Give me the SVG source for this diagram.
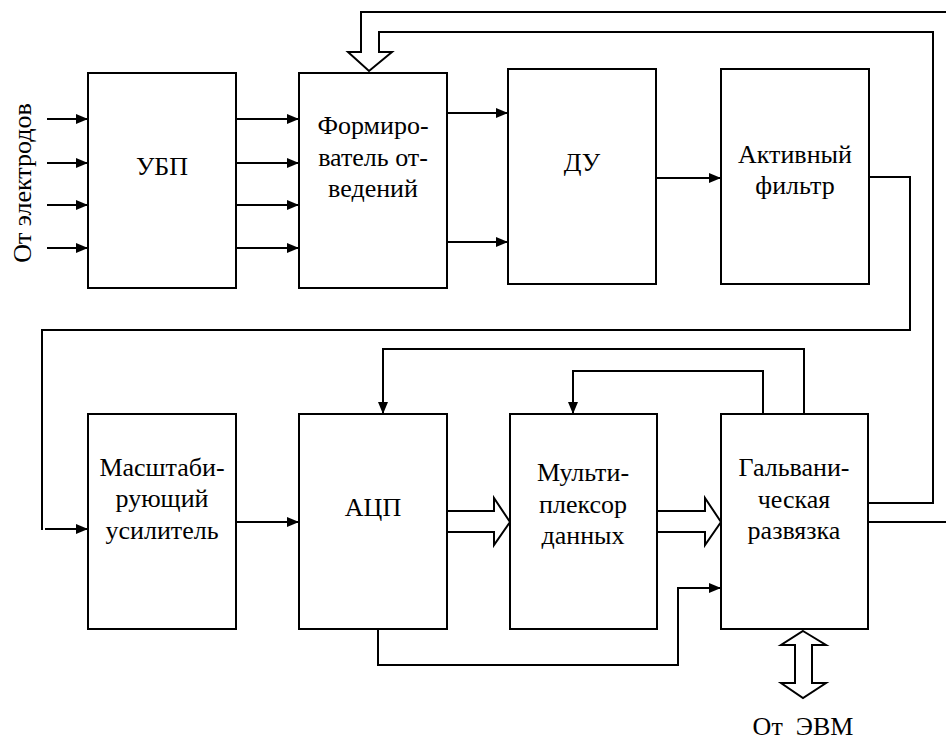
<svg xmlns="http://www.w3.org/2000/svg" width="946" height="740" viewBox="0 0 946 740">
  <style>
    .box { fill: #fff; stroke: #000; stroke-width: 2; }
    .lbl { font-family: "Liberation Serif", "DejaVu Serif", serif; font-size: 26px; fill: #000; text-anchor: middle; }
    .ln { fill: none; stroke: #000; stroke-width: 2; }
    .arr { fill: none; stroke: #000; stroke-width: 2; marker-end: url(#ah); }
    .bus { fill: #fff; stroke: #000; stroke-width: 2; stroke-linejoin: miter; }
  </style>
  <defs>
    <marker id="ah" markerUnits="userSpaceOnUse" markerWidth="14" markerHeight="10" refX="12" refY="5" orient="auto">
      <path d="M0,0 L12,5 L0,10 Z" fill="#000"/>
    </marker>
  </defs>
  <rect width="946" height="740" fill="#fff"/>

  <!-- connectors -->
  <g id="connectors">
    <!-- electrode inputs -->
    <path class="arr" d="M47,119 H88"/>
    <path class="arr" d="M47,163 H88"/>
    <path class="arr" d="M47,205 H88"/>
    <path class="arr" d="M47,248 H88"/>
    <!-- УБП to lead former -->
    <path class="arr" d="M236,119 H299"/>
    <path class="arr" d="M236,163 H299"/>
    <path class="arr" d="M236,205 H299"/>
    <path class="arr" d="M236,248 H299"/>
    <!-- lead former to ДУ -->
    <path class="arr" d="M447,113 H508"/>
    <path class="arr" d="M447,242 H508"/>
    <!-- ДУ to active filter -->
    <path class="arr" d="M656,178 H721"/>
    <!-- active filter to scaling amplifier -->
    <path class="ln" d="M869,177 H910 V330 H42 V530"/>
    <path class="arr" d="M45,529 H88"/>
    <!-- scaling amplifier to АЦП -->
    <path class="arr" d="M236,522 H299"/>
    <!-- control from isolation to АЦП -->
    <path class="arr" d="M804,413 V349 H383 V414"/>
    <!-- control from isolation to multiplexer -->
    <path class="arr" d="M763,413 V371 H573 V414"/>
    <!-- АЦП to isolation, lower path -->
    <path class="arr" d="M378,629 V665 H678 V588 H721"/>
    <!-- isolation back to lead former (bus arrow on top) -->
    <path class="bus" style="fill:none" d="M946,12 H361 V52 H348 L369,71 L392,52 H379 V32 H933 V503 H868"/>
    <path class="ln" d="M868,522 H946"/>
    <!-- data buses -->
    <path class="bus" d="M447,511 H494 V498 L510,522 L494,545 V532 H447"/>
    <path class="bus" d="M657,511 H705 V498 L721,522 L705,545 V532 H657"/>
    <!-- bidirectional bus to computer -->
    <path class="bus" d="M803,631 L826,645 H812 V683 H826 L803,698 L781,683 H795 V645 H781 Z"/>
  </g>

  <g id="ubp">
    <rect class="box" x="88" y="73" width="148" height="215"/>
    <text class="lbl" x="162" y="175">УБП</text>
  </g>
  <g id="lead-former">
    <rect class="box" x="299" y="73" width="148" height="215"/>
    <text class="lbl" x="373" y="134">Формиро-</text>
    <text class="lbl" x="373" y="166">ватель от-</text>
    <text class="lbl" x="373" y="197">ведений</text>
  </g>
  <g id="du">
    <rect class="box" x="508" y="69" width="148" height="215"/>
    <text class="lbl" x="582" y="171">ДУ</text>
  </g>
  <g id="active-filter">
    <rect class="box" x="721" y="69" width="148" height="215"/>
    <text class="lbl" x="795" y="163">Активный</text>
    <text class="lbl" x="795" y="194">фильтр</text>
  </g>
  <g id="scaling-amp">
    <rect class="box" x="88" y="414" width="148" height="215"/>
    <text class="lbl" x="162" y="476">Масштаби-</text>
    <text class="lbl" x="162" y="507">рующий</text>
    <text class="lbl" x="162" y="539">усилитель</text>
  </g>
  <g id="adc">
    <rect class="box" x="299" y="414" width="148" height="215"/>
    <text class="lbl" x="373" y="516">АЦП</text>
  </g>
  <g id="multiplexer">
    <rect class="box" x="510" y="414" width="147" height="215"/>
    <text class="lbl" x="583" y="481">Мульти-</text>
    <text class="lbl" x="583" y="513">плексор</text>
    <text class="lbl" x="583" y="544">данных</text>
  </g>
  <g id="isolation">
    <rect class="box" x="721" y="414" width="147" height="215"/>
    <text class="lbl" x="794" y="476">Гальвани-</text>
    <text class="lbl" x="794" y="508">ческая</text>
    <text class="lbl" x="794" y="539">развязка</text>
  </g>

  <g id="labels">
    <text class="lbl" transform="translate(31,183) rotate(-90)">От электродов</text>
    <text class="lbl" x="803" y="735" style="white-space:pre">От  ЭВМ</text>
  </g>
</svg>
